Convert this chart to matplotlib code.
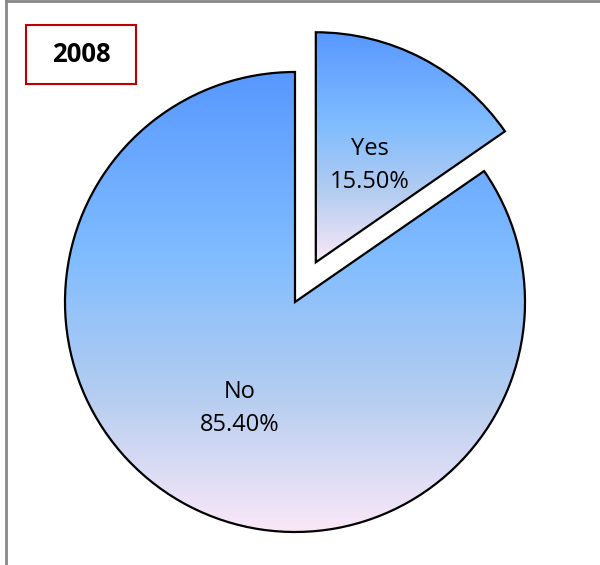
import numpy as np
import matplotlib
matplotlib.use("Agg")
import matplotlib.pyplot as plt
from matplotlib.colors import LinearSegmentedColormap
from matplotlib.patches import Rectangle

labels = ["Yes", "No"]
values = [15.50, 85.40]
explode = [0.195, 0.0]
title = "2008"

# vertical fill used inside each wedge: blue at the top fading to pale pink
grad = LinearSegmentedColormap.from_list(
    "blue_pink",
    [(0.0, "#5898ff"), (0.4, "#80bcff"), (0.7, "#b4cdf0"), (1.0, "#fbe8f8")])

W, H = 600, 565
cx, cy, R = 295, 302, 230  # pie centre and radius in pixels

fig = plt.figure(figsize=(W / 100, H / 100), dpi=100)
ax = fig.add_axes([0, 0, 1, 1])

wedges, texts = ax.pie(values, explode=explode, startangle=90, counterclock=False,
                       radius=1.0, wedgeprops=dict(facecolor="none", edgecolor="black",
                                                   linewidth=1.6, zorder=3))
ax.set_aspect("equal")

for w in wedges:
    verts = w.get_patch_transform().transform(w.get_path().vertices)
    x0, y0 = verts.min(axis=0)
    x1, y1 = verts.max(axis=0)
    img = np.linspace(0, 1, 256).reshape(-1, 1)
    im = ax.imshow(img, cmap=grad, extent=[x0, x1, y0, y1], origin="upper",
                   aspect="auto", zorder=2, interpolation="bilinear")
    im.set_clip_path(w)

ax.set_xlim(-cx / R, (W - cx) / R)
ax.set_ylim(-(H - cy) / R, cy / R)
ax.axis("off")

# data labels
label_pos = {"Yes": (0.326, 0.592), "No": (-0.24, -0.463)}
for lab, val in zip(labels, values):
    x, y = label_pos[lab]
    ax.text(x, y, f"{lab}\n{val:.2f}%", ha="center", va="center", fontsize=17,
            family="Open Sans", linespacing=1.5, zorder=4)

# title box
fig.patches.append(Rectangle((26 / W, 1 - 84 / H), 110 / W, 59 / H,
                             transform=fig.transFigure, facecolor="white",
                             edgecolor="#c00000", linewidth=1.5))
fig.text(81 / W, 1 - 55 / H, title, ha="center", va="center",
         fontsize=18.5, fontweight="bold", family="Open Sans")

# chart-area frame (only left and top edges fall inside the image)
fig.add_artist(plt.Line2D([5.5 / W, 5.5 / W], [0, 1 - 1 / H],
                          transform=fig.transFigure, color="#888888", linewidth=2))
fig.add_artist(plt.Line2D([5.5 / W, 1], [1 - 1 / H, 1 - 1 / H],
                          transform=fig.transFigure, color="#888888", linewidth=2))

fig.savefig("out.png", dpi=100)
